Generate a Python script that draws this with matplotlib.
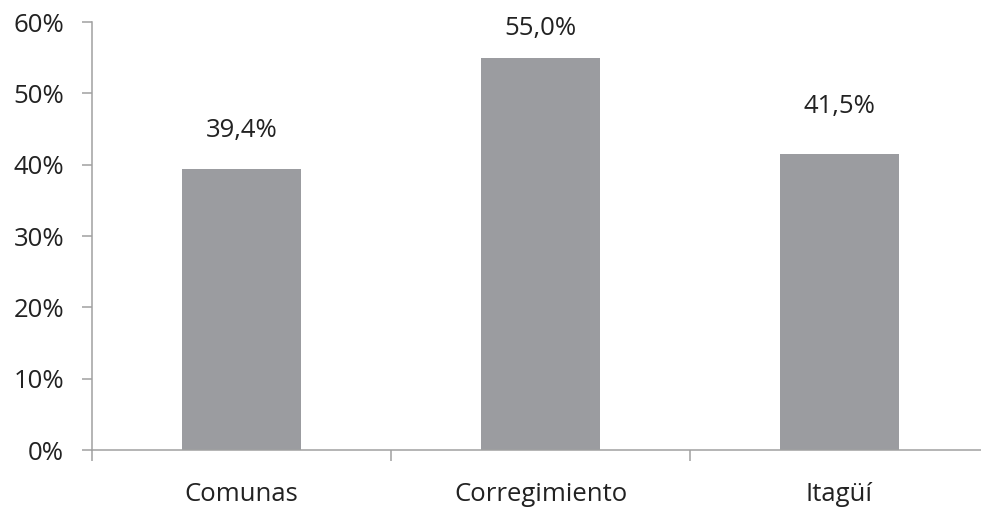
import numpy as np
import matplotlib.pyplot as plt
from matplotlib.ticker import FuncFormatter

categories = ['Comunas', 'Corregimiento', 'Itagüí']
values = [39.4, 55.0, 41.5]
y_ticks = [0, 10, 20, 30, 40, 50, 60]

# label gaps above each bar (points), as placed in the original
label_gap = [19, 12, 25]

plt.rcParams['font.family'] = ['Open Sans', 'DejaVu Sans']

fig = plt.figure(figsize=(9.81, 5.08), dpi=100)
ax = fig.add_axes([92/981, 58/508, 897/981, 428/508])

x = np.arange(len(categories))
bars = ax.bar(x, values, width=0.4, color='#9b9ca0', zorder=2)

for b, v, g in zip(bars, values, label_gap):
    ax.annotate(f'{v:.1f}%'.replace('.', ','),
                (b.get_x() + b.get_width()/2, b.get_height()),
                xytext=(0, g), textcoords='offset points',
                ha='center', va='bottom', fontsize=18.5, color='#222222')

ax.set_xlim(-0.5, len(categories) - 0.5)
ax.set_ylim(0, 60)
ax.set_yticks(y_ticks)
ax.yaxis.set_major_formatter(FuncFormatter(lambda v, p: f'{v:.0f}%'))

ax.set_xticks(np.arange(len(categories) + 1) - 0.5)
ax.set_xticklabels([])
ax.set_xticks(x, minor=True)
ax.set_xticklabels(categories, minor=True)

ax.tick_params(axis='y', direction='out', length=7, width=1.1, color='#a0a0a0',
               labelsize=18.5, labelcolor='#222222', pad=13)
ax.tick_params(axis='x', which='major', direction='out', length=8, width=1.1,
               color='#a0a0a0')
ax.tick_params(axis='x', which='minor', length=0, labelsize=18.5,
               labelcolor='#222222', pad=23)

for s in ['top', 'right']:
    ax.spines[s].set_visible(False)
for s in ['left', 'bottom']:
    ax.spines[s].set_color('#a0a0a0')
    ax.spines[s].set_linewidth(1.1)

fig.savefig('out.png', dpi=100)
